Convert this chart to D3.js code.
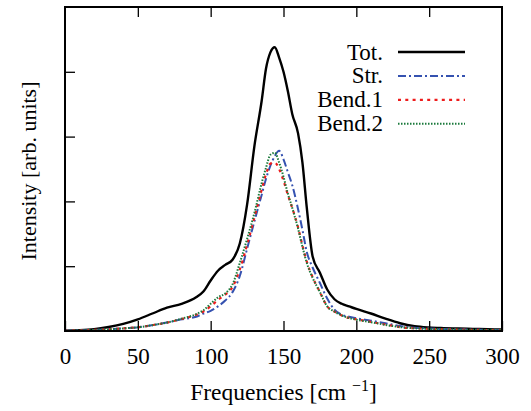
<!DOCTYPE html>
<html lang="en">
<head>
    <meta charset="UTF-8"/>
    <title>Intensity spectrum</title>
    <script src="https://d3js.org/d3.v7.min.js"></script>
    <style>
        body { margin: 0; background: #fff; }
    </style>
</head>
<body>
    <div id="chart"></div>

    <script>
        // frequency grid (cm^-1) shared by all series
        var freqs = [0, 10, 20, 30, 40, 50, 60, 70, 80, 90, 95, 100, 105, 110, 115, 120, 125, 130, 135, 138,
                     141, 144, 147, 150, 153, 156, 160, 163, 166, 170, 175, 180, 185, 190, 195, 200, 210, 220,
                     230, 240, 250, 260, 270, 280, 290, 300];

        var tot   = [0.005, 0.012, 0.028, 0.062, 0.11, 0.18, 0.27, 0.36, 0.42, 0.52, 0.61, 0.78, 0.93, 1.02, 1.10, 1.35,
                     1.95, 2.85, 3.55, 4.05, 4.30, 4.38, 4.22, 4.00, 3.70, 3.35, 3.05, 2.60, 1.90, 1.15, 0.90, 0.64,
                     0.49, 0.42, 0.38, 0.34, 0.27, 0.19, 0.12, 0.075, 0.055, 0.045, 0.038, 0.032, 0.027, 0.022];

        var str   = [0.003, 0.008, 0.016, 0.026, 0.04, 0.057, 0.09, 0.13, 0.18, 0.22, 0.27, 0.31, 0.38, 0.47, 0.60, 0.85,
                     1.27, 1.69, 2.10, 2.35, 2.55, 2.70, 2.78, 2.65, 2.45, 2.25, 1.88, 1.56, 1.22, 0.98, 0.74, 0.50,
                     0.33, 0.25, 0.22, 0.195, 0.16, 0.12, 0.077, 0.05, 0.038, 0.03, 0.025, 0.02, 0.017, 0.015];

        var bend1 = [0.003, 0.008, 0.016, 0.026, 0.04, 0.057, 0.09, 0.13, 0.185, 0.25, 0.30, 0.38, 0.48, 0.56, 0.68, 0.95,
                     1.33, 1.75, 2.18, 2.42, 2.58, 2.60, 2.50, 2.32, 2.10, 1.90, 1.60, 1.32, 1.07, 0.83, 0.60, 0.38,
                     0.30, 0.24, 0.20, 0.18, 0.14, 0.10, 0.06, 0.042, 0.033, 0.027, 0.022, 0.018, 0.015, 0.013];

        var bend2 = [0.003, 0.008, 0.016, 0.026, 0.04, 0.057, 0.09, 0.13, 0.19, 0.26, 0.32, 0.42, 0.52, 0.58, 0.72, 1.05,
                     1.42, 1.82, 2.28, 2.52, 2.72, 2.75, 2.60, 2.38, 2.12, 1.90, 1.58, 1.30, 1.05, 0.82, 0.60, 0.38,
                     0.30, 0.24, 0.20, 0.175, 0.135, 0.095, 0.06, 0.042, 0.033, 0.027, 0.022, 0.018, 0.015, 0.013];

        var seriesNames = ["Tot.", "Str.", "Bend.1", "Bend.2"];
        var xTicks = [0, 50, 100, 150, 200, 250, 300];
        var yTicks = [1, 2, 3, 4];

        var w = 531;
        var h = 411;
        var padL = 65, padR = 502, padT = 7, padB = 331;
        var serif = "'Liberation Serif', 'Times New Roman', serif";

        var styles = [
            { color: "#000000", width: 2.4, dash: null },
            { color: "#3552b0", width: 2, dash: "8,3,2,3" },
            { color: "#ee1c1c", width: 2.2, dash: "3,4.3" },
            { color: "#1b7a3c", width: 2, dash: "1.5,1.5" }
        ];

        var xScale = d3.scaleLinear().domain([0, 300]).range([padL, padR]);
        var yScale = d3.scaleLinear().domain([0, 5]).range([padB, padT]);

        var svg = d3.select("#chart")
                    .append("svg")
                    .attr("width", w)
                    .attr("height", h)
                    .style("font-family", serif);

        // curves
        var line = d3.line()
                     .x(function(d) { return xScale(d[0]); })
                     .y(function(d) { return yScale(d[1]); })
                     .curve(d3.curveMonotoneX);

        var series = [tot, str, bend1, bend2];
        series.forEach(function(vals, i) {
            var pts = freqs.map(function(f, j) { return [f, vals[j]]; });
            svg.append("path")
               .datum(pts)
               .attr("d", line)
               .attr("fill", "none")
               .attr("stroke", styles[i].color)
               .attr("stroke-width", styles[i].width)
               .attr("stroke-dasharray", styles[i].dash);
        });

        // axes, ticks pointing inward
        var xAxis = d3.axisBottom(xScale)
                      .tickValues(xTicks)
                      .tickSizeInner(-10)
                      .tickSizeOuter(0)
                      .tickPadding(17);
        var gx = svg.append("g")
                    .attr("transform", "translate(0," + padB + ")")
                    .call(xAxis);
        gx.select(".domain").remove();
        gx.selectAll("text")
          .style("font-family", serif)
          .style("font-size", "23px")
          .attr("fill", "#000");
        gx.selectAll("line").attr("stroke-width", 1.3);

        var topAxis = d3.axisTop(xScale)
                        .tickValues(xTicks.slice(1, -1))
                        .tickSizeInner(-10)
                        .tickSizeOuter(0)
                        .tickFormat("");
        var gt = svg.append("g")
                    .attr("transform", "translate(0," + padT + ")")
                    .call(topAxis);
        gt.select(".domain").remove();
        gt.selectAll("line").attr("stroke-width", 1.3);

        var yAxis = d3.axisLeft(yScale)
                      .tickValues(yTicks)
                      .tickSizeInner(-10)
                      .tickSizeOuter(0)
                      .tickFormat("");
        var gy = svg.append("g")
                    .attr("transform", "translate(" + padL + ",0)")
                    .call(yAxis);
        gy.select(".domain").remove();
        gy.selectAll("line").attr("stroke-width", 1.3);

        // frame
        svg.append("rect")
           .attr("x", padL)
           .attr("y", padT)
           .attr("width", padR - padL)
           .attr("height", padB - padT)
           .attr("fill", "none")
           .attr("stroke", "#000")
           .attr("stroke-width", 2);

        // legend
        var legend = svg.append("g");
        seriesNames.forEach(function(name, i) {
            var y = 52 + i * 23.9;
            legend.append("text")
                  .attr("x", 383)
                  .attr("y", y + 7.5)
                  .attr("text-anchor", "end")
                  .style("font-family", serif)
                  .style("font-size", "23px")
                  .text(name);
            legend.append("line")
                  .attr("x1", 398)
                  .attr("x2", 465)
                  .attr("y1", y)
                  .attr("y2", y)
                  .attr("stroke", styles[i].color)
                  .attr("stroke-width", styles[i].width)
                  .attr("stroke-dasharray", styles[i].dash);
        });

        // axis labels
        var xl = svg.append("text")
                    .attr("x", (padL + padR) / 2)
                    .attr("y", 400)
                    .attr("text-anchor", "middle")
                    .style("font-family", serif)
                    .style("font-size", "23.5px");
        xl.append("tspan").text("Frequencies [cm ");
        xl.append("tspan").style("font-size", "16px").attr("dy", -9).text("\u22121");
        xl.append("tspan").attr("dy", 9).text("]");

        svg.append("text")
           .attr("transform", "rotate(-90)")
           .attr("x", -(padT + padB) / 2 - 2)
           .attr("y", 36)
           .attr("text-anchor", "middle")
           .style("font-family", serif)
           .style("font-size", "22px")
           .text("Intensity [arb. units]");
    </script>
</body>
</html>
